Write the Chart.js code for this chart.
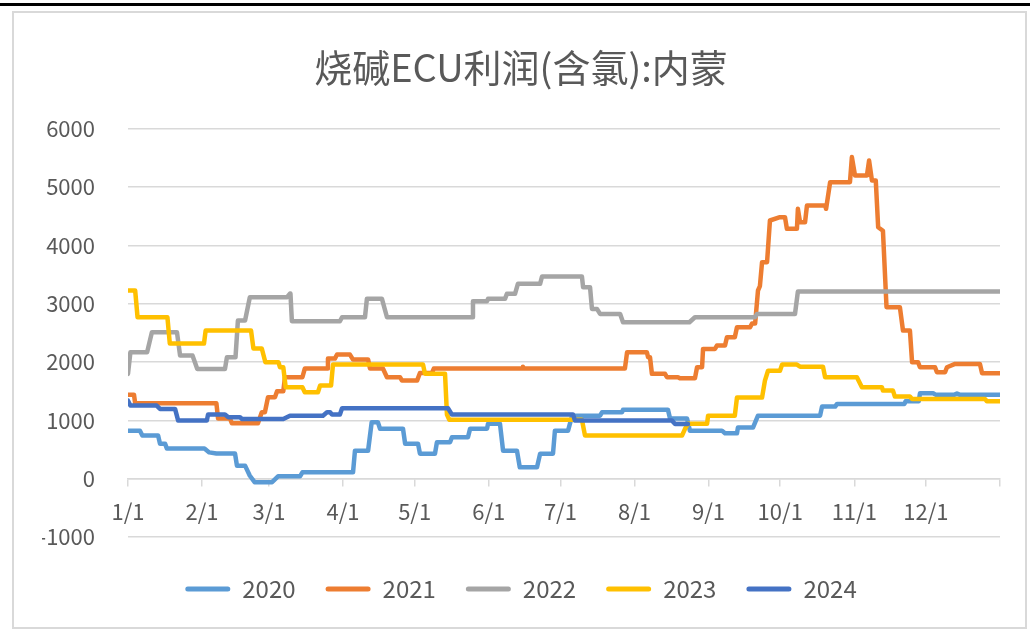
<!DOCTYPE html>
<html>
<head>
<meta charset="utf-8">
<script src="https://cdn.jsdelivr.net/npm/chart.js@4.4.1/dist/chart.umd.min.js"></script>
<style>
    body { margin: 0; background: #fff; width: 1030px; height: 636px; overflow: hidden; position: relative; }
    #topline { position: absolute; left: 0; top: 3px; width: 1030px; height: 3px; background: #000; }
    #box { position: absolute; left: 12px; top: 11px; width: 1011px; height: 614px; border: 2px solid #d9d9d9; }
    #grafico { position: absolute; left: 0; top: 0; }
</style>
</head>
<body>
<div id="topline"></div>
<div id="box"><canvas id="grafico" width="1011" height="614"></canvas></div>
<script>
// giorno dell'anno (0 = 1/1) e valore
var anni = ['2020', '2021', '2022', '2023', '2024'];
var colori = ['#5B9BD5', '#ED7D31', '#A5A5A5', '#FFC000', '#4472C4'];

var mesiGiorni = [0, 31, 59, 90, 120, 151, 181, 212, 243, 273, 304, 334, 365];
var mesiLabel = ['1/1', '2/1', '3/1', '4/1', '5/1', '6/1', '7/1', '8/1', '9/1', '10/1', '11/1', '12/1', ''];
var yTicks = [-1000, 0, 1000, 2000, 3000, 4000, 5000, 6000];

var s2020 = [[0,820],[5,820],[6,740],[12.6,740],[13.4,600],[15.5,600],[16.3,515],[32,515],[34,450],[37,430],[44.8,430],[45.6,223],[49,223],[51,50],[53,-60],[60.3,-60],[62.8,40],[72,40],[73,109],[94.2,109],[95,480],[100.5,480],[102,966],[104.6,966],[105.5,857],[115.1,857],[116,600],[121.4,600],[122.2,429],[128.5,429],[129.3,623],[134.8,623],[135.6,709],[142.3,709],[143.2,857],[150.3,857],[150.7,943],[155.7,943],[157,480],[162.8,480],[164,194],[171.2,194],[172.5,429],[177.9,429],[178.7,823],[184.2,823],[185.9,1080],[197.6,1080],[198.4,1137],[206.8,1137],[207.2,1183],[226,1183],[226.9,1029],[234,1029],[235.2,823],[248.6,823],[249.9,777],[254.9,777],[255.3,875],[261.6,875],[263.7,1080],[289.7,1080],[290.5,1235],[296,1235],[296.8,1281],[325,1281],[325.5,1327],[331,1327],[331.5,1463],[337,1463],[338,1440],[346,1440],[347,1460],[348,1440],[365,1440]];

var s2021 = [[0,1440],[2.5,1440],[3,1292],[37,1292],[37.7,1029],[42.7,1029],[43.5,949],[54.4,949],[56,1137],[57.3,1137],[58.6,1395],[61.5,1395],[62.4,1498],[65,1498],[65.7,1738],[73,1738],[74,1887],[83.3,1887],[83.7,2058],[86.6,2058],[87.5,2127],[92.9,2127],[94.2,2041],[100.5,2041],[101.3,1887],[106.7,1887],[108.4,1738],[113.9,1738],[114.7,1681],[121,1681],[122.2,1810],[127.2,1810],[128,1887],[165,1887],[165.3,1920],[165.8,1887],[208,1887],[208.9,2167],[217.2,2167],[217.7,2081],[218.5,2081],[219.3,1796],[224.8,1796],[225.6,1738],[230.2,1738],[231,1720],[237.3,1720],[238.2,1910],[240.3,1910],[240.7,2224],[245.7,2224],[246.5,2281],[249.9,2281],[250.7,2424],[254,2424],[254.9,2595],[260.4,2595],[261.2,2658],[262.5,2658],[263.7,3225],[264.5,3300],[265.4,3710],[267.5,3710],[268.7,4425],[272.9,4482],[275,4482],[275.8,4282],[280,4282],[280.4,4625],[281.3,4396],[283.4,4396],[284.2,4683],[291.8,4683],[292.2,4625],[293.9,5082],[302.2,5082],[303,5512],[304.3,5197],[309.3,5197],[310.2,5454],[311.4,5111],[313,5111],[314,4310],[316,4250],[317.5,2938],[323.1,2938],[324.4,2538],[327.3,2538],[328.2,1995],[330.7,1995],[331.5,1910],[337.8,1910],[338.6,1823],[342,1823],[342.8,1910],[346.2,1967],[356.6,1967],[357.5,1806],[365,1806]];

var s2022 = [[0,1796],[1,2167],[8,2167],[10,2510],[20.5,2510],[21.8,2110],[27,2110],[29,1881],[40.6,1881],[41.4,2081],[45,2081],[46,2710],[49,2710],[51,3110],[66.6,3110],[67.8,3173],[68,3173],[68.6,2698],[88.7,2698],[89.6,2767],[99.2,2767],[100,3082],[106.3,3082],[108.4,2767],[144,2767],[144.4,3041],[150.3,3041],[150.7,3082],[157.8,3082],[158.6,3168],[162,3168],[163.2,3339],[172.5,3339],[173.3,3465],[190,3465],[190.5,3282],[193.4,3282],[194.2,2910],[196.3,2910],[197.6,2824],[206,2824],[207.2,2681],[235,2681],[237.3,2767],[262.5,2767],[263.3,2824],[279.2,2824],[280.4,3207],[365,3207]];

var s2023 = [[0,3225],[3,3225],[4,2767],[16.5,2767],[17.5,2315],[31.8,2315],[32.5,2538],[51.5,2538],[52.5,2230],[56,2230],[57.5,1995],[63,1995],[63.6,1910],[65,1910],[66,1566],[73,1566],[74,1480],[79.5,1480],[80.4,1595],[85,1595],[85.8,1955],[123.5,1955],[124.3,1800],[132.7,1800],[133.5,1100],[134.5,1010],[190,1010],[191.3,738],[231.9,738],[233.2,857],[234.4,943],[242.4,943],[242.8,1080],[254,1080],[254.9,1390],[265.4,1390],[266.6,1680],[267.9,1850],[272.9,1850],[273.8,1955],[280,1955],[281.3,1920],[290.9,1920],[291.8,1738],[305.1,1738],[307.2,1566],[315.6,1566],[316,1510],[320.2,1510],[321,1407],[327.3,1407],[328.2,1367],[358.7,1367],[359.5,1327],[365,1327]];

var s2024 = [[0,1338],[1,1252],[12,1252],[13.4,1195],[19.7,1195],[21,995],[33,995],[33.5,1098],[40.6,1098],[42,1052],[46.9,1052],[47.7,1023],[65,1023],[67.8,1080],[81.6,1080],[83.3,1137],[84.6,1137],[85.4,1098],[88.7,1098],[89.6,1206],[134,1206],[135.6,1098],[186.3,1098],[187.1,995],[227.7,995],[229,938],[234.4,938]];

var serie = [s2020, s2021, s2022, s2023, s2024];

Chart.defaults.font.family = '"Microsoft YaHei", "Noto Sans CJK SC", sans-serif';
Chart.defaults.color = '#595959';

var datasets = [];
for (var i = 0; i < serie.length; i++) {
    datasets.push({
        label: anni[i],
        data: serie[i],
        borderColor: colori[i],
        backgroundColor: colori[i],
        borderWidth: 4.5,
        borderCapStyle: 'round',
        borderJoinStyle: 'round',
        pointRadius: 0,
        tension: 0,
        order: serie.length - i   // l'ultimo anno sopra, come in Excel
    });
}

var ctx = document.getElementById('grafico');
var newChart = new Chart(ctx, {
    type: 'line',
    data: { datasets: datasets },
    options: {
        responsive: false,
        animation: false,
        devicePixelRatio: 1,
        layout: { padding: { left: 28, right: 25, top: 0, bottom: 16 } },
        scales: {
            x: {
                type: 'linear',
                position: { y: 0 },
                min: 0,
                max: 365,
                afterBuildTicks: function (scale) {
                    scale.ticks = mesiGiorni.map(function (g) { return { value: g }; });
                },
                ticks: {
                    autoSkip: false,
                    maxRotation: 0,
                    padding: 13,
                    font: { size: 22 },
                    callback: function (v) {
                        var k = mesiGiorni.indexOf(v);
                        return k >= 0 ? mesiLabel[k] : '';
                    }
                },
                grid: { drawOnChartArea: false, drawTicks: true, tickLength: 7, color: '#d9d9d9', lineWidth: 1.5 },
                border: { display: true, color: '#d9d9d9', width: 1.5 }
            },
            y: {
                min: -1000,
                max: 6000,
                afterBuildTicks: function (scale) {
                    scale.ticks = yTicks.map(function (v) { return { value: v }; });
                },
                afterFit: function (scale) { scale.width = 86; },
                ticks: {
                    padding: 33,
                    font: { size: 22 },
                    callback: function (v) { return String(v); }
                },
                grid: { drawTicks: false, color: '#d9d9d9', lineWidth: 1.5 },
                border: { display: false }
            }
        },
        plugins: {
            title: {
                display: true,
                text: '烧碱ECU利润(含氯):内蒙',
                font: { size: 38, weight: 'normal' },
                color: '#595959',
                padding: { top: 32, bottom: 38 }
            },
            legend: {
                position: 'bottom',
                title: { display: true, text: ' ', font: { size: 10, lineHeight: 1 }, padding: 0 },
                labels: {
                    boxWidth: 45,
                    boxHeight: 5,
                    padding: 30,
                    font: { size: 24 },
                    color: '#595959',
                    sort: function (a, b) { return a.datasetIndex - b.datasetIndex; },
                    generateLabels: function (chart) {
                        return Chart.defaults.plugins.legend.labels.generateLabels(chart).map(function (l) {
                            l.lineWidth = 0;
                            l.borderRadius = 2.5;
                            return l;
                        });
                    },
                    useBorderRadius: true,
                    borderRadius: 2.5
                }
            },
            tooltip: { enabled: false }
        }
    }
});
</script>
</body>
</html>
